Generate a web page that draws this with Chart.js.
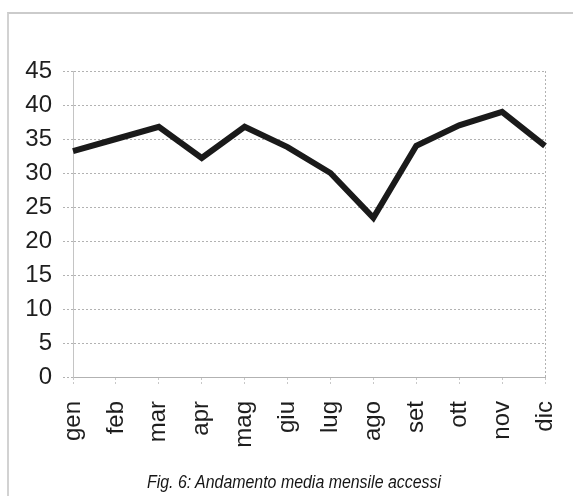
<!DOCTYPE html>
<html>
<head>
<meta charset="utf-8">
<script src="https://cdn.jsdelivr.net/npm/chart.js@4/dist/chart.umd.min.js"></script>
<style>
  html, body { margin: 0; padding: 0; background: #fff; }
  #wrap { position: relative; width: 573px; height: 496px; overflow: hidden; }
  #frame { position: absolute; left: 7px; top: 12px; right: -4px; bottom: -4px;
           border-left: 2px solid #d2d2d2; border-top: 2px solid #cbcbcb; }
  canvas { position: absolute; left: 0; top: 0; }
  #caption { position: absolute; left: 147px; top: 471px; white-space: nowrap;
             font-family: "Liberation Sans", Arial, sans-serif; font-style: italic;
             font-size: 19px; line-height: 22px; color: #151515; transform-origin: 0 0; }
</style>
</head>
<body>
<div id="wrap">
  <div id="frame"></div>
  <canvas id="c" width="573" height="496"></canvas>
  <div id="caption"></div>
</div>
<script>
// Mesi dell'anno
const months = ['gen', 'feb', 'mar', 'apr', 'mag', 'giu', 'lug', 'ago', 'set', 'ott', 'nov', 'dic'];
// Media mensile degli accessi
const mediaAccessi = [33.2, 35, 36.8, 32.2, 36.8, 33.8, 30, 23.4, 34, 37, 39, 34];
// Asse verticale
const yMin = 0;
const yMax = 45;
const yStep = 5;
const caption = 'Fig. 6: Andamento media mensile accessi';

// Didascalia in carattere stretto: larghezza fissa di 294 px
const cap = document.getElementById('caption');
cap.textContent = caption;
cap.style.transform = 'scaleX(' + (294 / cap.getBoundingClientRect().width) + ')';

const gridGray = '#b2b2b2';
const textColor = '#1e1e1e';

new Chart(document.getElementById('c'), {
  type: 'line',
  data: {
    labels: months,
    datasets: [{
      data: mediaAccessi,
      borderColor: '#1a1a1a',
      borderWidth: 6,
      borderJoinStyle: 'miter',
      borderCapStyle: 'butt',
      pointRadius: 0,
      tension: 0,
      fill: false
    }]
  },
  options: {
    responsive: false,
    animation: false,
    devicePixelRatio: 1,
    layout: { padding: { left: 0, right: 28, top: 71, bottom: 22.6 } },
    plugins: {
      legend: { display: false },
      tooltip: { enabled: false },
      title: { display: false }
    },
    scales: {
      x: {
        offset: false,
        afterFit: (s) => { s.height = 96.4; s.paddingLeft = 0; s.paddingRight = 0; },
        border: { display: true, color: gridGray, dash: [2, 2], width: 1 },
        grid: {
          drawOnChartArea: true,
          color: (ctx) => (ctx.index === 0 || ctx.index === months.length - 1) ? gridGray : 'rgba(0,0,0,0)',
          tickColor: '#c8c8c8',
          tickLength: 8,
          tickBorderDash: [2, 2],
          lineWidth: 1
        },
        ticks: {
          color: textColor,
          font: { family: '"Liberation Sans", Arial, sans-serif', size: 24 },
          minRotation: 90,
          maxRotation: 90,
          autoSkip: false,
          padding: 16
        }
      },
      y: {
        min: yMin,
        max: yMax,
        afterFit: (s) => { s.width = 73; s.paddingTop = 0; s.paddingBottom = 0; },
        border: { display: true, color: '#c4c4c4', dash: [2, 2], width: 1 },
        grid: {
          color: gridGray,
          lineWidth: 1,
          borderDash: [2, 2],
          tickLength: 10,
          tickBorderDash: [2, 2],
          tickColor: gridGray
        },
        ticks: {
          stepSize: yStep,
          color: textColor,
          font: { family: '"Liberation Sans", Arial, sans-serif', size: 24 },
          padding: 11
        }
      }
    }
  }
});
</script>
</body>
</html>
